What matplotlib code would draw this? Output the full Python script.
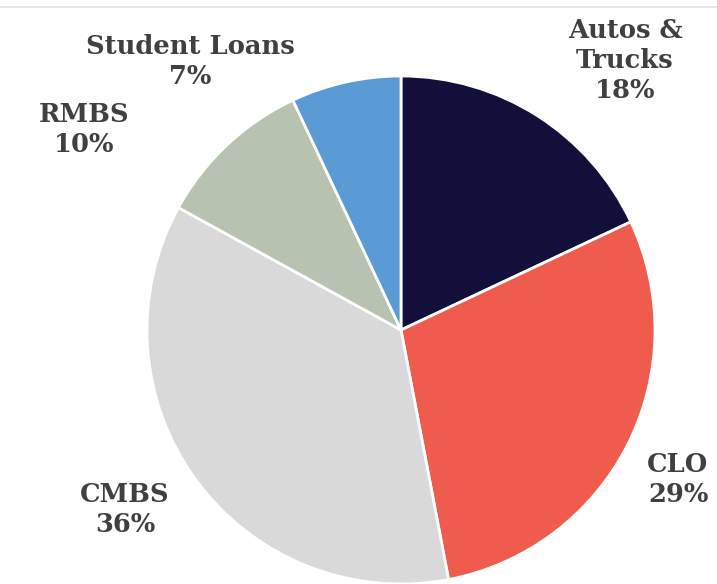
import matplotlib
matplotlib.use('Agg')
import matplotlib.pyplot as plt

# allocation by sector (%)
sectors = ['Autos &\nTrucks', 'CLO', 'CMBS', 'RMBS', 'Student Loans']
shares = [18, 29, 36, 10, 7]
colors = ['#12103a', '#ef5b4d', '#d9d9d9', '#b7c3b0', '#5b9bd5']
label_pos = [(625, 524), (678, 104), (125, 74), (84, 454), (190, 522)]

W, H = 717, 584
fig = plt.figure(figsize=(W / 100, H / 100), dpi=100)
ax = fig.add_axes([0, 0, 1, 1])

ax.pie(shares, colors=colors, startangle=90, counterclock=False,
       center=(401, 254), radius=254, frame=True,
       wedgeprops=dict(edgecolor='white', linewidth=2))
ax.set_xlim(0, W); ax.set_ylim(0, H); ax.set_aspect('equal'); ax.axis('off')

for name, val, (x, y) in zip(sectors, shares, label_pos):
    ax.text(x, y, f'{name}\n{val}%', ha='center', va='center', fontsize=18.5,
            fontweight='bold', family='DejaVu Serif', color='#404040',
            linespacing=1.25)

ax.axhline(H - 7, color='#e3e3e3', linewidth=1.2)
fig.savefig('out.png', dpi=100)
